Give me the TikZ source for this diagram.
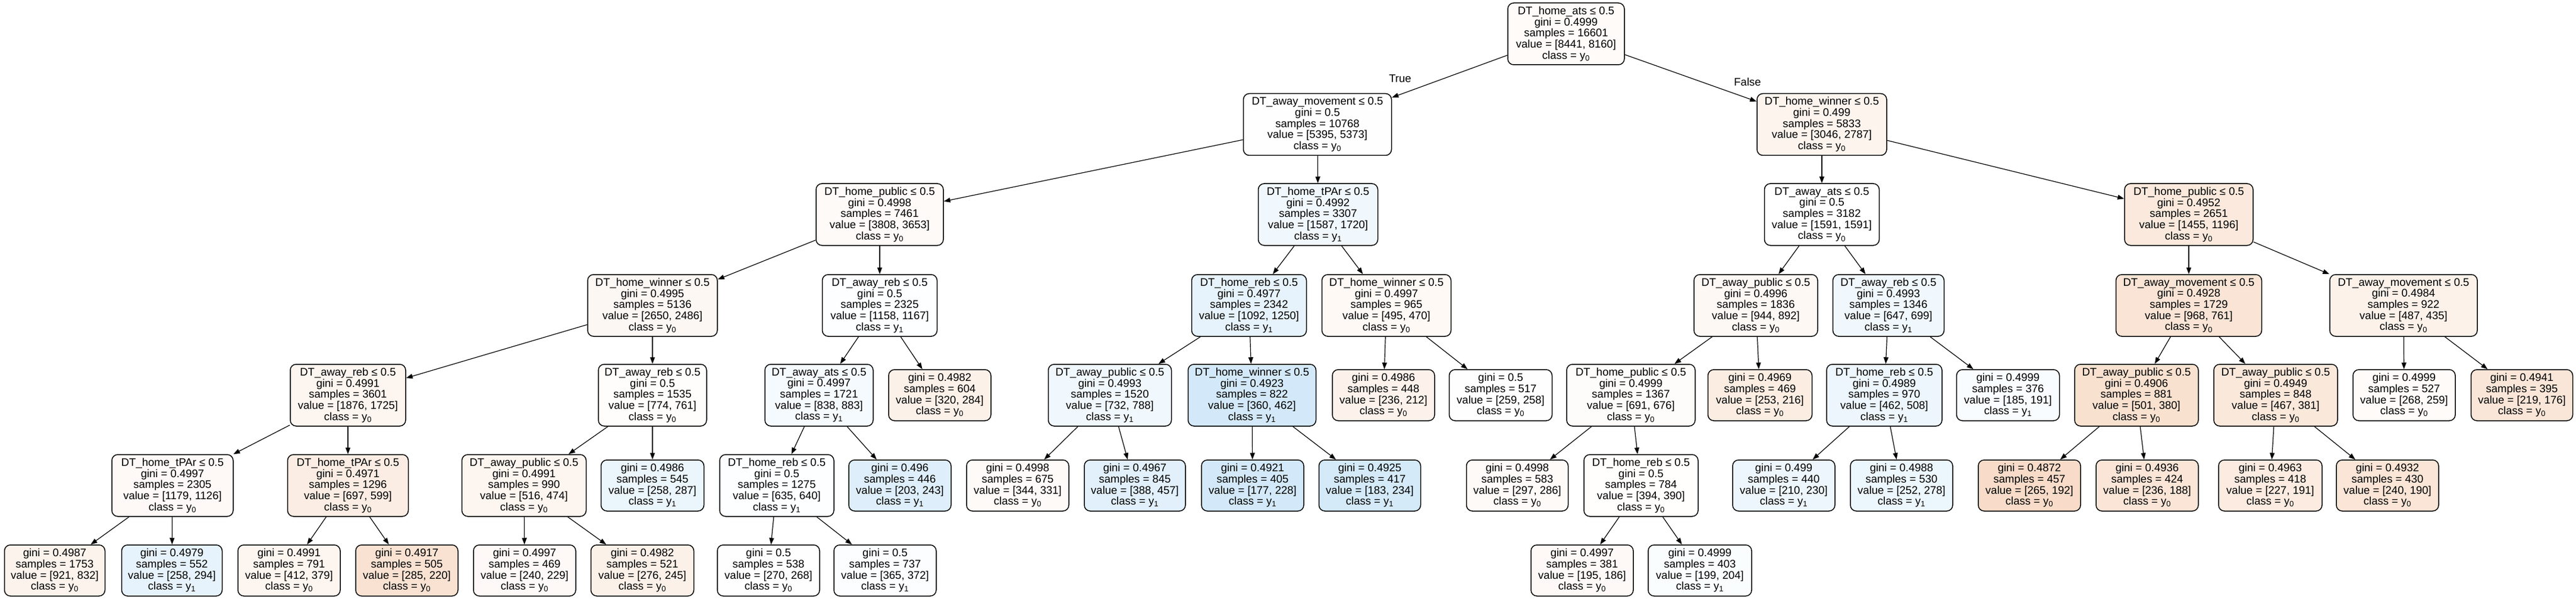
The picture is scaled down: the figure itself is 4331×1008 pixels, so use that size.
\documentclass[tikz,border=0pt]{standalone}
\usepackage{fontspec}
\setmainfont{Liberation Sans}
\usetikzlibrary{arrows.meta}
\definecolor{czero}{HTML}{E58139}
\definecolor{cone}{HTML}{399DE5}
\newcommand\clA{class = y\textsubscript{0}}
\newcommand\clB{class = y\textsubscript{1}}
\tikzset{
  inode/.style={draw=black, rounded corners=10pt, line width=1.5pt, minimum height=104pt,
    align=center, inner sep=3pt, text=black, font=\fontsize{18.5}{18.7}\selectfont},
  leafnode/.style={inode, minimum height=86pt},
  conn/.style={draw=black, line width=1.2pt, -{Triangle[length=11pt,width=8pt]}},
  elabel/.style={font=\fontsize{18.5}{18.7}\selectfont, text=black}
}
\begin{document}
\begin{tikzpicture}[x=1pt,y=-1pt]
\useasboundingbox[fill=white] (0,0) rectangle (4331,1008);
% depth 0
\node[inode, fill=czero!3.3, minimum width=196pt] (n0) at (2633,57) {DT\_home\_ats ≤ 0.5\\gini = 0.4999\\samples = 16601\\value = [8441, 8160]\\\clA};
% depth 1
\node[inode, fill=czero!0.4, minimum width=249pt] (n1) at (2215,209.5) {DT\_away\_movement ≤ 0.5\\gini = 0.5\\samples = 10768\\value = [5395, 5373]\\\clA};
\node[inode, fill=czero!8.5, minimum width=218pt] (n2) at (3063,209.5) {DT\_home\_winner ≤ 0.5\\gini = 0.499\\samples = 5833\\value = [3046, 2787]\\\clA};
% depth 2
\node[inode, fill=czero!4.1, minimum width=214pt] (n3) at (1479,361) {DT\_home\_public ≤ 0.5\\gini = 0.4998\\samples = 7461\\value = [3808, 3653]\\\clA};
\node[inode, fill=cone!7.7, minimum width=201pt] (n4) at (2216,361) {DT\_home\_tPAr ≤ 0.5\\gini = 0.4992\\samples = 3307\\value = [1587, 1720]\\\clB};
\node[inode, fill=white, minimum width=193pt] (n5) at (3063,361) {DT\_away\_ats ≤ 0.5\\gini = 0.5\\samples = 3182\\value = [1591, 1591]\\\clA};
\node[inode, fill=czero!17.8, minimum width=216pt] (n6) at (3680,361) {DT\_home\_public ≤ 0.5\\gini = 0.4952\\samples = 2651\\value = [1455, 1196]\\\clA};
% depth 3
\node[inode, fill=czero!6.2, minimum width=218pt] (n7) at (1097,514) {DT\_home\_winner ≤ 0.5\\gini = 0.4995\\samples = 5136\\value = [2650, 2486]\\\clA};
\node[inode, fill=cone!0.8, minimum width=193pt] (n8) at (1479,514) {DT\_away\_reb ≤ 0.5\\gini = 0.5\\samples = 2325\\value = [1158, 1167]\\\clB};
\node[inode, fill=cone!12.6, minimum width=193pt] (n9) at (2100,514) {DT\_home\_reb ≤ 0.5\\gini = 0.4977\\samples = 2342\\value = [1092, 1250]\\\clB};
\node[inode, fill=czero!5.1, minimum width=217pt] (n10) at (2331,514) {DT\_home\_winner ≤ 0.5\\gini = 0.4997\\samples = 965\\value = [495, 470]\\\clA};
\node[inode, fill=czero!5.5, minimum width=208pt] (n11) at (2952,514) {DT\_away\_public ≤ 0.5\\gini = 0.4996\\samples = 1836\\value = [944, 892]\\\clA};
\node[inode, fill=cone!7.4, minimum width=187pt] (n12) at (3175,514) {DT\_away\_reb ≤ 0.5\\gini = 0.4993\\samples = 1346\\value = [647, 699]\\\clB};
\node[inode, fill=czero!21.4, minimum width=245pt] (n13) at (3680,514) {DT\_away\_movement ≤ 0.5\\gini = 0.4928\\samples = 1729\\value = [968, 761]\\\clA};
\node[inode, fill=czero!10.7, minimum width=248pt] (n14) at (4041,514) {DT\_away\_movement ≤ 0.5\\gini = 0.4984\\samples = 922\\value = [487, 435]\\\clA};
% depth 4
\node[inode, fill=czero!8.0, minimum width=194pt] (n15) at (585,665) {DT\_away\_reb ≤ 0.5\\gini = 0.4991\\samples = 3601\\value = [1876, 1725]\\\clA};
\node[inode, fill=czero!1.7, minimum width=182pt] (n16) at (1097,665) {DT\_away\_reb ≤ 0.5\\gini = 0.5\\samples = 1535\\value = [774, 761]\\\clA};
\node[inode, fill=cone!5.1, minimum width=182pt] (n17) at (1377,665) {DT\_away\_ats ≤ 0.5\\gini = 0.4997\\samples = 1721\\value = [838, 883]\\\clB};
\node[leafnode, fill=czero!11.3, minimum width=172pt] (n18) at (1580,665) {gini = 0.4982\\samples = 604\\value = [320, 284]\\\clA};
\node[inode, fill=cone!7.1, minimum width=207pt] (n19) at (1866,665) {DT\_away\_public ≤ 0.5\\gini = 0.4993\\samples = 1520\\value = [732, 788]\\\clB};
\node[inode, fill=cone!22.1, minimum width=215pt] (n20) at (2105,665) {DT\_home\_winner ≤ 0.5\\gini = 0.4923\\samples = 822\\value = [360, 462]\\\clB};
\node[leafnode, fill=czero!10.2, minimum width=172pt] (n21) at (2326,665) {gini = 0.4986\\samples = 448\\value = [236, 212]\\\clA};
\node[leafnode, fill=czero!0.4, minimum width=173pt] (n22) at (2523,665) {gini = 0.5\\samples = 517\\value = [259, 258]\\\clA};
\node[inode, fill=czero!2.2, minimum width=216pt] (n23) at (2742,665) {DT\_home\_public ≤ 0.5\\gini = 0.4999\\samples = 1367\\value = [691, 676]\\\clA};
\node[leafnode, fill=czero!14.6, minimum width=175pt] (n24) at (2959,665) {gini = 0.4969\\samples = 469\\value = [253, 216]\\\clA};
\node[inode, fill=cone!9.1, minimum width=194pt] (n25) at (3168,665) {DT\_home\_reb ≤ 0.5\\gini = 0.4989\\samples = 970\\value = [462, 508]\\\clB};
\node[leafnode, fill=cone!3.1, minimum width=173pt] (n26) at (3376,665) {gini = 0.4999\\samples = 376\\value = [185, 191]\\\clB};
\node[inode, fill=czero!24.2, minimum width=208pt] (n27) at (3592,665) {DT\_away\_public ≤ 0.5\\gini = 0.4906\\samples = 881\\value = [501, 380]\\\clA};
\node[inode, fill=czero!18.4, minimum width=208pt] (n28) at (3826,665) {DT\_away\_public ≤ 0.5\\gini = 0.4949\\samples = 848\\value = [467, 381]\\\clA};
\node[leafnode, fill=czero!3.4, minimum width=172pt] (n29) at (4042,665) {gini = 0.4999\\samples = 527\\value = [268, 259]\\\clA};
\node[leafnode, fill=czero!19.6, minimum width=171pt] (n30) at (4240,665) {gini = 0.4941\\samples = 395\\value = [219, 176]\\\clA};
% depth 5
\node[inode, fill=czero!4.5, minimum width=204pt] (n31) at (290,817) {DT\_home\_tPAr ≤ 0.5\\gini = 0.4997\\samples = 2305\\value = [1179, 1126]\\\clA};
\node[inode, fill=czero!14.1, minimum width=203pt] (n32) at (585,817) {DT\_home\_tPAr ≤ 0.5\\gini = 0.4971\\samples = 1296\\value = [697, 599]\\\clA};
\node[inode, fill=czero!8.1, minimum width=209pt] (n33) at (881,817) {DT\_away\_public ≤ 0.5\\gini = 0.4991\\samples = 990\\value = [516, 474]\\\clA};
\node[leafnode, fill=cone!10.1, minimum width=173pt] (n34) at (1097,817) {gini = 0.4986\\samples = 545\\value = [258, 287]\\\clB};
\node[inode, fill=cone!0.8, minimum width=192pt] (n35) at (1306,817) {DT\_home\_reb ≤ 0.5\\gini = 0.5\\samples = 1275\\value = [635, 640]\\\clB};
\node[leafnode, fill=cone!16.5, minimum width=172pt] (n36) at (1513,817) {gini = 0.496\\samples = 446\\value = [203, 243]\\\clB};
\node[leafnode, fill=czero!3.8, minimum width=172pt] (n37) at (1711,817) {gini = 0.4998\\samples = 675\\value = [344, 331]\\\clA};
\node[leafnode, fill=cone!15.1, minimum width=170pt] (n38) at (1908,817) {gini = 0.4967\\samples = 845\\value = [388, 457]\\\clB};
\node[leafnode, fill=cone!22.4, minimum width=172pt] (n39) at (2106,817) {gini = 0.4921\\samples = 405\\value = [177, 228]\\\clB};
\node[leafnode, fill=cone!21.8, minimum width=171pt] (n40) at (2303,817) {gini = 0.4925\\samples = 417\\value = [183, 234]\\\clB};
\node[leafnode, fill=czero!3.7, minimum width=171pt] (n41) at (2551,817) {gini = 0.4998\\samples = 583\\value = [297, 286]\\\clA};
\node[inode, fill=czero!1.0, minimum width=192pt] (n42) at (2759,817) {DT\_home\_reb ≤ 0.5\\gini = 0.5\\samples = 784\\value = [394, 390]\\\clA};
\node[leafnode, fill=cone!8.7, minimum width=172pt] (n43) at (2999,817) {gini = 0.499\\samples = 440\\value = [210, 230]\\\clB};
\node[leafnode, fill=cone!9.4, minimum width=172pt] (n44) at (3197,817) {gini = 0.4988\\samples = 530\\value = [252, 278]\\\clB};
\node[leafnode, fill=czero!27.5, minimum width=172pt] (n45) at (3412,817) {gini = 0.4872\\samples = 457\\value = [265, 192]\\\clA};
\node[leafnode, fill=czero!20.3, minimum width=172pt] (n46) at (3610,817) {gini = 0.4936\\samples = 424\\value = [236, 188]\\\clA};
\node[leafnode, fill=czero!15.9, minimum width=174pt] (n47) at (3817,817) {gini = 0.4963\\samples = 418\\value = [227, 191]\\\clA};
\node[leafnode, fill=czero!20.8, minimum width=172pt] (n48) at (4014,817) {gini = 0.4932\\samples = 430\\value = [240, 190]\\\clA};
% depth 6
\node[leafnode, fill=czero!9.7, minimum width=169pt] (n49) at (92,960) {gini = 0.4987\\samples = 1753\\value = [921, 832]\\\clA};
\node[leafnode, fill=cone!12.2, minimum width=169pt] (n50) at (289,960) {gini = 0.4979\\samples = 552\\value = [258, 294]\\\clB};
\node[leafnode, fill=czero!8.0, minimum width=172pt] (n51) at (486,960) {gini = 0.4991\\samples = 791\\value = [412, 379]\\\clA};
\node[leafnode, fill=czero!22.8, minimum width=172pt] (n52) at (684,960) {gini = 0.4917\\samples = 505\\value = [285, 220]\\\clA};
\node[leafnode, fill=czero!4.6, minimum width=172pt] (n53) at (882,960) {gini = 0.4997\\samples = 469\\value = [240, 229]\\\clA};
\node[leafnode, fill=czero!11.2, minimum width=173pt] (n54) at (1080,960) {gini = 0.4982\\samples = 521\\value = [276, 245]\\\clA};
\node[leafnode, fill=czero!0.7, minimum width=172pt] (n55) at (1292,960) {gini = 0.5\\samples = 538\\value = [270, 268]\\\clA};
\node[leafnode, fill=cone!1.9, minimum width=172pt] (n56) at (1488,960) {gini = 0.5\\samples = 737\\value = [365, 372]\\\clB};
\node[leafnode, fill=czero!4.6, minimum width=172pt] (n57) at (2660,960) {gini = 0.4997\\samples = 381\\value = [195, 186]\\\clA};
\node[leafnode, fill=cone!2.5, minimum width=174pt] (n58) at (2858,960) {gini = 0.4999\\samples = 403\\value = [199, 204]\\\clB};
% edge labels
\node[elabel] (lt) at (2354,132) {True};
\node[elabel] (lf) at (2938,138) {False};
% connectors
\foreach \p/\c in {n0/n1,n0/n2,n1/n3,n1/n4,n2/n5,n2/n6,n3/n7,n3/n8,n4/n9,n4/n10,
  n5/n11,n5/n12,n6/n13,n6/n14,n7/n15,n7/n16,n8/n17,n8/n18,n9/n19,n9/n20,
  n10/n21,n10/n22,n11/n23,n11/n24,n12/n25,n12/n26,n13/n27,n13/n28,n14/n29,n14/n30,
  n15/n31,n15/n32,n16/n33,n16/n34,n17/n35,n17/n36,n19/n37,n19/n38,n20/n39,n20/n40,
  n23/n41,n23/n42,n25/n43,n25/n44,n27/n45,n27/n46,n28/n47,n28/n48,
  n31/n49,n31/n50,n32/n51,n32/n52,n33/n53,n33/n54,n35/n55,n35/n56,n42/n57,n42/n58}
  {\draw[conn] (\p) -- (\c);}
\end{tikzpicture}
\end{document}
